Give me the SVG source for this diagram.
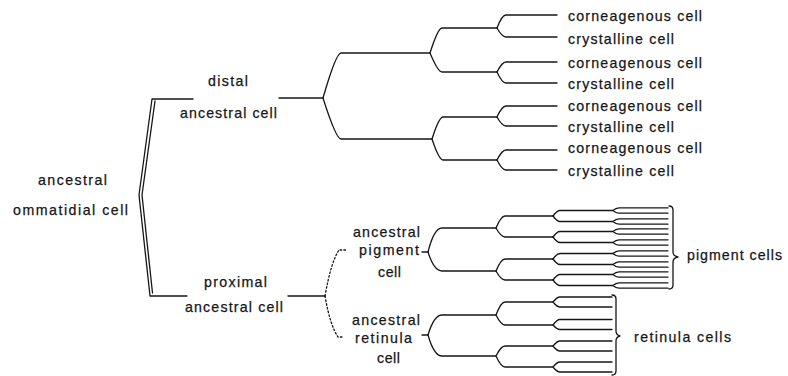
<svg xmlns="http://www.w3.org/2000/svg" width="788" height="376" viewBox="0 0 788 376">
<style>
  text { font-family: "Liberation Sans", Arial, sans-serif; font-size: 14.2px; fill: #161616; stroke: #161616; stroke-width: 0.25; }
  .ln { fill: none; stroke: #161616; stroke-width: 1.3; stroke-linecap: round; stroke-linejoin: round; }
  .dot { fill: none; stroke: #161616; stroke-width: 1.3; stroke-dasharray: 1.6 2.2; stroke-linecap: round; }
</style>
<rect width="788" height="376" fill="#ffffff"/>

<g id="connectors">
  <!-- root double bracket -->
  <path class="ln" d="M193,99 H152 L139,195 L150,296 H187"/>
  <path class="ln" d="M155,101 L142,195 L152.5,293"/>

  <!-- distal -->
  <path class="ln" d="M279,98 H323"/>
  <path class="ln" d="M323,98 Q336,53 341,53 H430"/>
  <path class="ln" d="M323,98 Q336,139 341,139 H432"/>
  <path class="ln" d="M430,53 Q438,28 442,28 H497"/>
  <path class="ln" d="M430,53 Q438,72 442,72 H497"/>
  <path class="ln" d="M432,139 Q439,117 443,117 H497"/>
  <path class="ln" d="M432,139 Q439,160 443,160 H497"/>
  <path class="ln" d="M497,28 Q502,15 506,15 H557"/>
  <path class="ln" d="M497,28 Q502,37 506,37 H557"/>
  <path class="ln" d="M497,72 Q502,62 506,62 H557"/>
  <path class="ln" d="M497,72 Q502,83 506,83 H557"/>
  <path class="ln" d="M497,117 Q502,106 506,106 H557"/>
  <path class="ln" d="M497,117 Q502,126 506,126 H557"/>
  <path class="ln" d="M497,160 Q502,150 506,150 H557"/>
  <path class="ln" d="M497,160 Q502,170 506,170 H557"/>

  <!-- proximal -->
  <path class="ln" d="M288,296 H325"/>
  <path class="dot" d="M325,296 Q331,262 339,250 H346"/>
  <path class="dot" d="M325,296 Q330,325 338,337 H344"/>

  <!-- pigment lineage -->
  <path class="ln" d="M422,252 H428"/>
  <path class="ln" d="M428,252 Q434,228 442,228 H496"/>
  <path class="ln" d="M428,252 Q434,271 442,271 H496"/>
  <path class="ln" d="M496,228 Q501,216 505,216 H553"/>
  <path class="ln" d="M496,228 Q501,237 505,237 H553"/>
  <path class="ln" d="M496,271 Q501,259 505,259 H553"/>
  <path class="ln" d="M496,271 Q501,280 505,280 H553"/>
  <path class="ln" d="M553,216 Q557,210.5 560,210.5 H613"/>
  <path class="ln" d="M553,216 Q557,221.5 560,221.5 H613"/>
  <path class="ln" d="M553,237 Q557,231.5 560,231.5 H613"/>
  <path class="ln" d="M553,237 Q557,242.5 560,242.5 H613"/>
  <path class="ln" d="M553,259 Q557,253.5 560,253.5 H613"/>
  <path class="ln" d="M553,259 Q557,264.5 560,264.5 H613"/>
  <path class="ln" d="M553,280 Q557,274.5 560,274.5 H613"/>
  <path class="ln" d="M553,280 Q557,285.5 560,285.5 H613"/>
  <path class="ln" d="M613,210.5 Q616,207.8 619,207.8 H668 M613,210.5 Q616,213.2 619,213.2 H668"/>
  <path class="ln" d="M613,221.5 Q616,218.8 619,218.8 H668 M613,221.5 Q616,224.2 619,224.2 H668"/>
  <path class="ln" d="M613,231.5 Q616,228.8 619,228.8 H668 M613,231.5 Q616,234.2 619,234.2 H668"/>
  <path class="ln" d="M613,242.5 Q616,239.8 619,239.8 H668 M613,242.5 Q616,245.2 619,245.2 H668"/>
  <path class="ln" d="M613,253.5 Q616,250.8 619,250.8 H668 M613,253.5 Q616,256.2 619,256.2 H668"/>
  <path class="ln" d="M613,264.5 Q616,261.8 619,261.8 H668 M613,264.5 Q616,267.2 619,267.2 H668"/>
  <path class="ln" d="M613,274.5 Q616,271.8 619,271.8 H668 M613,274.5 Q616,277.2 619,277.2 H668"/>
  <path class="ln" d="M613,285.5 Q616,282.8 619,282.8 H668 M613,285.5 Q616,288.2 619,288.2 H668"/>
  <path class="ln" d="M669,206 Q673,206 673,210 V252 Q673,256 678,257 Q673,258 673,262 V285 Q673,289 669,289"/>

  <!-- retinula lineage -->
  <path class="ln" d="M422,335 H428"/>
  <path class="ln" d="M428,335 Q434,315 442,315 H496"/>
  <path class="ln" d="M428,335 Q434,356 442,356 H496"/>
  <path class="ln" d="M496,315 Q501,302 505,302 H553"/>
  <path class="ln" d="M496,315 Q501,325 505,325 H553"/>
  <path class="ln" d="M496,356 Q501,346 505,346 H553"/>
  <path class="ln" d="M496,356 Q501,367 505,367 H553"/>
  <path class="ln" d="M553,302 Q557,297 560,297 H612 M553,302 Q557,307 560,307 H612"/>
  <path class="ln" d="M553,325 Q557,319.5 560,319.5 H612 M553,325 Q557,329.5 560,329.5 H612"/>
  <path class="ln" d="M553,346 Q557,341 560,341 H612 M553,346 Q557,351 560,351 H612"/>
  <path class="ln" d="M553,367 Q557,362 560,362 H612 M553,367 Q557,372 560,372 H612"/>
  <path class="ln" d="M612,295 Q616,295 616,299 V331 Q616,335 620,336 Q616,337 616,341 V371 Q616,375 612,375"/>
</g>

<g id="node-ommatidial">
  <text x="38" y="185" textLength="69" lengthAdjust="spacing">ancestral</text>
  <text x="13" y="215" textLength="115" lengthAdjust="spacing">ommatidial cell</text>
</g>
<g id="node-distal">
  <text x="208" y="86" textLength="40" lengthAdjust="spacing">distal</text>
  <text x="180" y="118" textLength="97" lengthAdjust="spacing">ancestral cell</text>
</g>
<g id="node-proximal">
  <text x="204" y="287" textLength="63" lengthAdjust="spacing">proximal</text>
  <text x="185" y="312" textLength="98" lengthAdjust="spacing">ancestral cell</text>
</g>
<g id="node-pigment">
  <text x="353" y="237" textLength="67" lengthAdjust="spacing">ancestral</text>
  <text x="359" y="255" textLength="60" lengthAdjust="spacing">pigment</text>
  <text x="378" y="277" textLength="23" lengthAdjust="spacing">cell</text>
</g>
<g id="node-retinula">
  <text x="352" y="325" textLength="68" lengthAdjust="spacing">ancestral</text>
  <text x="355" y="343" textLength="57" lengthAdjust="spacing">retinula</text>
  <text x="377" y="363" textLength="23" lengthAdjust="spacing">cell</text>
</g>
<g id="node-cornea-1"><text x="568" y="21" textLength="134" lengthAdjust="spacing">corneagenous cell</text></g>
<g id="node-crystal-1"><text x="568" y="44" textLength="106" lengthAdjust="spacing">crystalline cell</text></g>
<g id="node-cornea-2"><text x="568" y="68" textLength="134" lengthAdjust="spacing">corneagenous cell</text></g>
<g id="node-crystal-2"><text x="568" y="89" textLength="106" lengthAdjust="spacing">crystalline cell</text></g>
<g id="node-cornea-3"><text x="568" y="111" textLength="134" lengthAdjust="spacing">corneagenous cell</text></g>
<g id="node-crystal-3"><text x="568" y="132" textLength="106" lengthAdjust="spacing">crystalline cell</text></g>
<g id="node-cornea-4"><text x="568" y="153" textLength="134" lengthAdjust="spacing">corneagenous cell</text></g>
<g id="node-crystal-4"><text x="568" y="176" textLength="106" lengthAdjust="spacing">crystalline cell</text></g>
<g id="node-pigment-cells"><text x="687" y="260" textLength="95" lengthAdjust="spacing">pigment cells</text></g>
<g id="node-retinula-cells"><text x="634" y="342" textLength="97" lengthAdjust="spacing">retinula cells</text></g>
</svg>
